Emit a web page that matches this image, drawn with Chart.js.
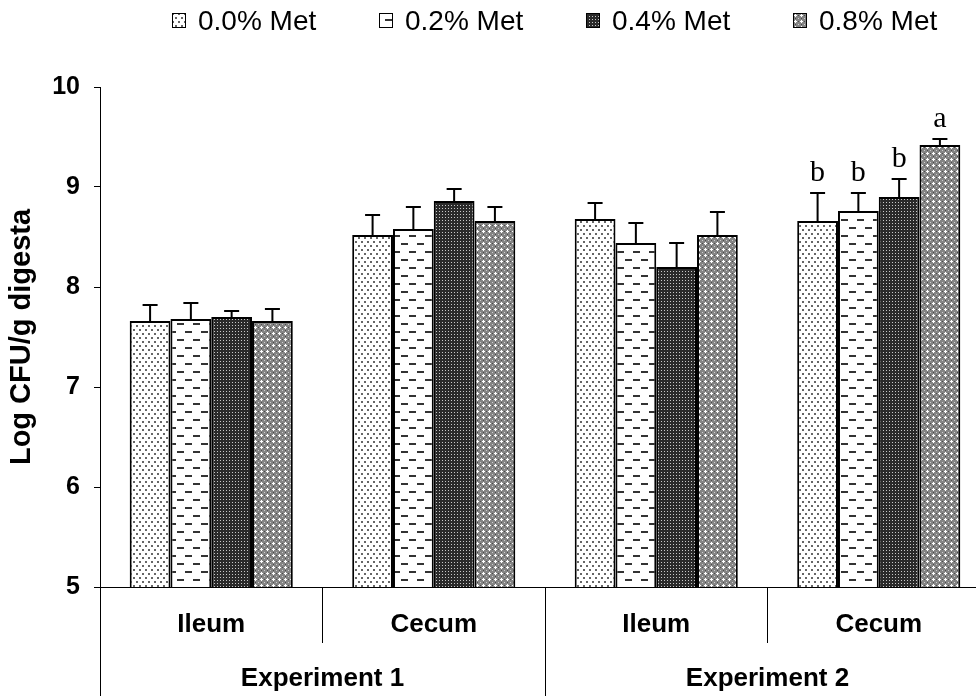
<!DOCTYPE html>
<html>
<head>
<meta charset="utf-8">
<title>Log CFU/g digesta</title>
<script src="https://cdn.jsdelivr.net/npm/chart.js@4.4.1/dist/chart.umd.min.js"></script>
<style>
    html, body { margin: 0; padding: 0; background: #fff; overflow: hidden; }
    #wrap { width: 1000px; height: 696px; }
</style>
</head>
<body>
<div id="wrap"><canvas id="chart" width="1000" height="696"></canvas></div>
<script>
// Data
const sites = ['Ileum', 'Cecum', 'Ileum', 'Cecum'];
const experiments = ['Experiment 1', 'Experiment 2'];
const doseLabels = ['0.0% Met', '0.2% Met', '0.4% Met', '0.8% Met'];

const met00 = [7.66, 8.52, 8.68, 8.66];
const met02 = [7.68, 8.58, 8.44, 8.76];
const met04 = [7.70, 8.86, 8.20, 8.90];
const met08 = [7.66, 8.66, 8.52, 9.42];

const err00 = [0.16, 0.20, 0.16, 0.28];
const err02 = [0.16, 0.22, 0.20, 0.18];
const err04 = [0.06, 0.12, 0.24, 0.18];
const err08 = [0.12, 0.14, 0.23, 0.06];

// letters over the bars, per site column (only Experiment 2 cecum)
const sigLetters = [null, null, null, ['b', 'b', 'b', 'a']];

const yTicks = [5, 6, 7, 8, 9, 10];

const SANS = '"Liberation Sans", Arial, sans-serif';
const SERIF = '"Liberation Serif", "Times New Roman", serif';

// Fill patterns
function makePattern(w, h, draw) {
    const c = document.createElement('canvas');
    c.width = w;
    c.height = h;
    const g = c.getContext('2d');
    draw(g);
    return g.createPattern(c, 'repeat');
}

const dotted = makePattern(6, 8, g => {
    g.fillStyle = '#fff';
    g.fillRect(0, 0, 6, 8);
    g.fillStyle = '#666';
    g.fillRect(1, 1, 2, 2);
    g.fillRect(4, 5, 2, 2);
});

const dashed = makePattern(16, 16, g => {
    g.fillStyle = '#fff';
    g.fillRect(0, 0, 16, 16);
    g.fillStyle = '#333';
    g.fillRect(1, 3, 7, 2);
    g.fillRect(9, 11, 7, 2);
});

const darkGrid = makePattern(3, 3, g => {
    g.fillStyle = '#2a2a2a';
    g.fillRect(0, 0, 3, 3);
    g.fillStyle = '#c8c8c8';
    g.fillRect(1, 1, 1, 1);
});

// gray lattice with small white crosses
const crossHatch = makePattern(6, 6, g => {
    g.fillStyle = '#858585';
    g.fillRect(0, 0, 6, 6);
    g.fillStyle = '#fff';
    g.fillRect(2, 3, 3, 1);
    g.fillRect(3, 2, 1, 3);
    g.fillStyle = '#d0d0d0';
    g.fillRect(0, 0, 1, 1);
    g.fillStyle = '#4a4a4a';
    g.fillRect(0, 3, 1, 1);
    g.fillRect(3, 0, 1, 1);
});

const fills = [dotted, dashed, darkGrid, crossHatch];
const values = [met00, met02, met04, met08];
const errors = [err00, err02, err04, err08];

// Error bars (upper half only) and letters
const errorBarPlugin = {
    id: 'errorBars',
    afterDatasetsDraw(chart) {
        const ctx = chart.ctx;
        const yScale = chart.scales.y;
        ctx.save();
        ctx.strokeStyle = '#000';
        ctx.lineWidth = 2;
        chart.data.datasets.forEach((ds, di) => {
            const meta = chart.getDatasetMeta(di);
            meta.data.forEach((bar, i) => {
                const topY = yScale.getPixelForValue(ds.data[i] + ds.errors[i]);
                ctx.beginPath();
                ctx.moveTo(bar.x, bar.y);
                ctx.lineTo(bar.x, topY);
                ctx.moveTo(bar.x - 7.5, topY);
                ctx.lineTo(bar.x + 7.5, topY);
                ctx.stroke();

                const letters = sigLetters[i];
                if (letters) {
                    ctx.fillStyle = '#000';
                    ctx.font = '30px ' + SERIF;
                    ctx.textAlign = 'center';
                    ctx.textBaseline = 'alphabetic';
                    ctx.fillText(letters[di], bar.x, topY - 12);
                }
            });
        });
        ctx.restore();
    }
};

// Experiment grouping under the site labels
const groupAxisPlugin = {
    id: 'groupAxis',
    afterDraw(chart) {
        const ctx = chart.ctx;
        const xScale = chart.scales.x;
        const area = chart.chartArea;
        const half = (xScale.getPixelForValue(1) - xScale.getPixelForValue(0)) / 2;
        ctx.save();
        ctx.strokeStyle = '#000';
        ctx.lineWidth = 1;
        ctx.fillStyle = '#000';
        ctx.font = 'bold 26px ' + SANS;
        ctx.textAlign = 'center';
        ctx.textBaseline = 'middle';
        const perGroup = sites.length / experiments.length;
        experiments.forEach((name, gi) => {
            const first = gi * perGroup;
            const left = xScale.getPixelForValue(first) - half;
            const right = xScale.getPixelForValue(first + perGroup - 1) + half;
            const x = Math.round(left) + 0.5;
            ctx.beginPath();
            ctx.moveTo(x, area.bottom);
            ctx.lineTo(x, chart.height);
            ctx.stroke();
            ctx.fillText(name, (left + right) / 2, 679);
        });
        ctx.restore();
    }
};

// Legend along the top
const topLegendPlugin = {
    id: 'topLegend',
    afterDraw(chart) {
        const ctx = chart.ctx;
        const startX = 172;
        const step = 207;
        ctx.save();
        ctx.font = '28px ' + SANS;
        ctx.textBaseline = 'middle';
        ctx.textAlign = 'left';
        chart.data.datasets.forEach((ds, i) => {
            const x = startX + i * step;
            ctx.fillStyle = ds.backgroundColor;
            ctx.fillRect(x, 13, 14, 15);
            ctx.strokeStyle = '#000';
            ctx.lineWidth = 1;
            ctx.strokeRect(x + 0.5, 13.5, 13, 14);
            ctx.fillStyle = '#000';
            ctx.fillText(ds.label, x + 26, 22);
        });
        ctx.restore();
    }
};

const ctx = document.getElementById('chart').getContext('2d');
new Chart(ctx, {
    type: 'bar',
    data: {
        labels: sites,
        datasets: doseLabels.map((label, i) => ({
            label: label,
            data: values[i],
            errors: errors[i],
            backgroundColor: fills[i],
            borderColor: '#000',
            borderWidth: 2,
            barPercentage: 1,
            categoryPercentage: 0.733
        }))
    },
    options: {
        responsive: false,
        animation: false,
        devicePixelRatio: 1,
        layout: {
            padding: { top: 87, right: 10, left: 0, bottom: 0 }
        },
        plugins: {
            legend: { display: false },
            tooltip: { enabled: false }
        },
        scales: {
            x: {
                afterFit: s => { s.height = 109; },
                grid: {
                    display: true,
                    offset: true,
                    drawOnChartArea: false,
                    drawTicks: true,
                    tickLength: 56,
                    color: '#000',
                    lineWidth: 1
                },
                border: { display: true, color: '#000', width: 1 },
                ticks: {
                    color: '#000',
                    padding: -34,
                    font: { family: SANS, size: 26, weight: 'bold' }
                }
            },
            y: {
                min: 5,
                max: 10,
                afterFit: s => { s.width = 100; },
                afterBuildTicks: s => { s.ticks = yTicks.map(v => ({ value: v })); },
                grid: {
                    display: true,
                    drawOnChartArea: false,
                    drawTicks: true,
                    tickLength: 6,
                    color: '#000',
                    lineWidth: 1
                },
                border: { display: true, color: '#000', width: 1 },
                ticks: {
                    color: '#000',
                    padding: 14,
                    font: { family: SANS, size: 25, weight: 'bold' }
                },
                title: {
                    display: true,
                    text: 'Log CFU/g digesta',
                    color: '#000',
                    padding: { top: 5, bottom: 0 },
                    font: { family: SANS, size: 29, weight: 'bold' }
                }
            }
        }
    },
    plugins: [errorBarPlugin, groupAxisPlugin, topLegendPlugin]
});
</script>
</body>
</html>
